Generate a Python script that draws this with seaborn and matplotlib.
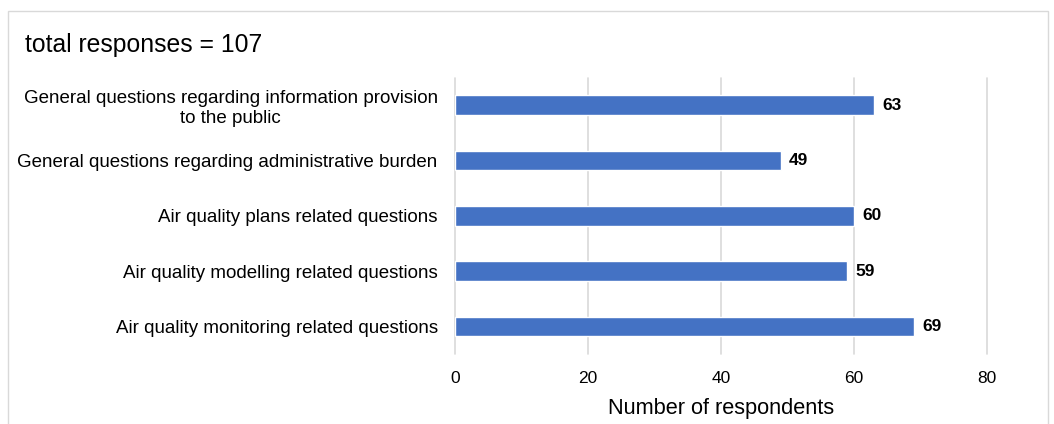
import pandas as pd
import seaborn as sns
import matplotlib.pyplot as plt
from matplotlib.patches import Rectangle

# data
categories = [
    "General questions regarding information provision\nto the public",
    "General questions regarding administrative burden",
    "Air quality plans related questions",
    "Air quality modelling related questions",
    "Air quality monitoring related questions",
]
respondents = [63, 49, 60, 59, 69]
x_ticks = [0, 20, 40, 60, 80]

df = pd.DataFrame({"category": categories, "respondents": respondents})

sns.set_theme(style="white")
plt.rcParams["font.family"] = ["Liberation Sans", "DejaVu Sans"]

fig = plt.figure(figsize=(10.54, 4.24), dpi=100)
ax = fig.add_axes([0.4317, 0.165, 0.5047, 0.652])

sns.barplot(data=df, y="category", x="respondents", color="#4472C4",
            width=0.355, saturation=1, ax=ax, zorder=3)

# value labels
for cont in ax.containers:
    ax.bar_label(cont, fmt="%d", padding=6, fontsize=12.5, fontweight="bold",
                 color="black")

ax.set_xlim(0, 80)
ax.set_ylim(4.5, -0.5)
ax.set_xticks(x_ticks)
ax.grid(axis="x", color="#D9D9D9", linewidth=1.2, zorder=0)
for gl in ax.get_xgridlines():
    gl.set_clip_on(False)
for s in ax.spines.values():
    s.set_visible(False)
ax.tick_params(axis="y", length=0, pad=12.5, labelsize=13.5, labelcolor="black")
ax.tick_params(axis="x", length=0, pad=12, labelsize=12.5, labelcolor="black")
for lbl in ax.get_yticklabels():
    lbl.set_multialignment("center")
ax.set_ylabel("")
ax.set_xlabel("Number of respondents", fontsize=15.7, labelpad=9, color="black")

fig.text(25 / 1054, 1 - 45 / 424, "total responses = 107", fontsize=17.8,
         va="center", ha="left", color="black")

# chart border
fig.patches.append(Rectangle((8 / 1054, -0.1), 1040 / 1054, 1.1 - 11 / 424,
                             transform=fig.transFigure, fill=False,
                             edgecolor="#D9D9D9", linewidth=1))

fig.savefig("out.png", dpi=100)
